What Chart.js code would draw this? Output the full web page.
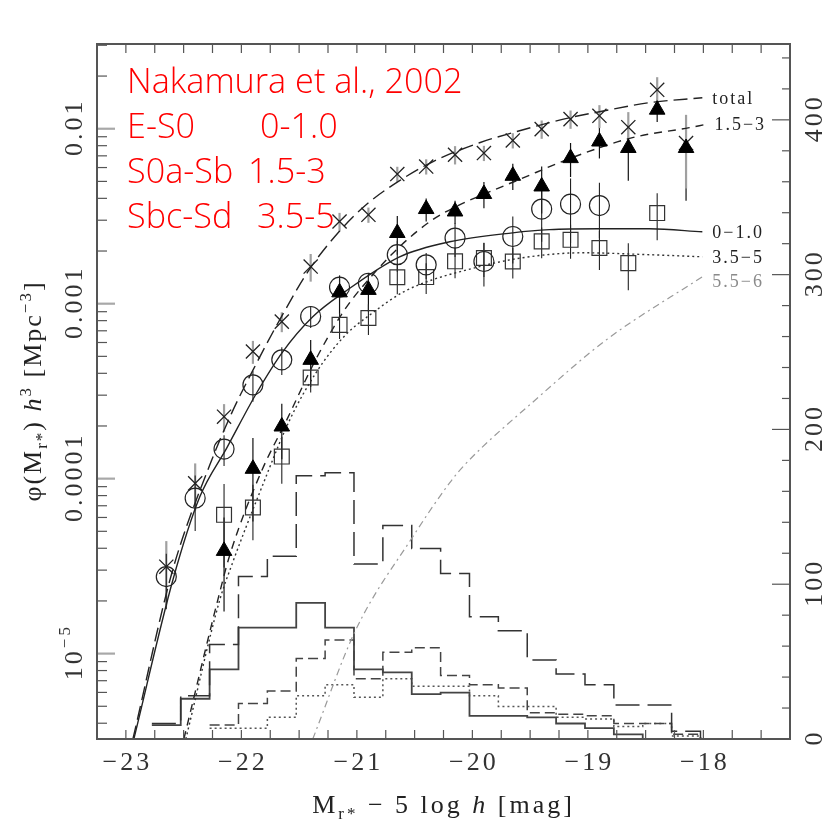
<!DOCTYPE html>
<html>
<head>
<meta charset="utf-8">
<script src="https://cdn.jsdelivr.net/npm/chart.js@4"></script>
<style>
  html, body { margin: 0; padding: 0; background: #fff; }
  #wrap { width: 828px; height: 825px; }
</style>
</head>
<body>
<div id="wrap"><canvas id="lfChart" width="828" height="825"></canvas></div>
<script>
// bin centres [mag]
const binM = [-22.65, -22.4, -22.15, -21.9, -21.65, -21.4, -21.15, -20.9, -20.65, -20.4,
              -20.15, -19.9, -19.65, -19.4, -19.15, -18.9, -18.65, -18.4, -18.15];

// phi(M) h^3 [Mpc^-3] per bin (null = no point)
const phiTotal = [3.14e-5, 9.4e-5, 2.26e-4, 5.33e-4, 7.9e-4, 1.63e-3, 2.95e-3, 3.22e-3, 5.51e-3, 6.08e-3,
                  7.10e-3, 7.26e-3, 8.57e-3, 9.95e-3, 1.135e-2, 1.186e-2, 1.02e-2, 1.67e-2, 8.28e-3];
const phiE = [2.754e-5, 7.73e-5, 1.476e-4, 3.436e-4, 4.775e-4, 8.45e-4, 1.242e-3, 1.309e-3, 1.905e-3, 1.667e-3,
              2.371e-3, 1.742e-3, 2.421e-3, 3.475e-3, 3.707e-3, 3.639e-3, null, null, null];
const phiS = [null, null, 3.864e-5, 1.138e-4, 1.986e-4, 4.775e-4, 1.161e-3, 1.199e-3, 2.535e-3, 3.475e-3,
              3.365e-3, 4.236e-3, 5.383e-3, 4.677e-3, 6.792e-3, 8.453e-3, 7.762e-3, 1.285e-2, 7.762e-3];
const phiSd = [null, null, 6.21e-5, 6.84e-5, 1.337e-4, 3.784e-4, 7.568e-4, 8.28e-4, 1.416e-3, 1.419e-3,
               1.746e-3, 1.824e-3, 1.742e-3, 2.270e-3, 2.317e-3, 2.080e-3, 1.706e-3, 3.296e-3, null];

// relative errors of the points
const errTotal = [0.4, 0.3, 0.18, 0.15, 0.13, 0.18, 0.12, 0.1, 0.1, 0.1, 0.12, 0.1, 0.1, 0.12, 0.12, 0.15, 0.22, 0.18, 0.45];
const errE = [0.35, 0.35, 0.2, 0.2, 0.18, 0.14, 0.14, 0.14, 0.2, 0.17, 0.22, 0.28, 0.3, 0.35, 0.4, 0.35, null, null, null];
const errS = [null, null, 0.55, 0.5, 0.35, 0.3, 0.25, 0.25, 0.25, 0.15, 0.15, 0.17, 0.17, 0.3, 0.22, 0.2, 0.35, 0.15, 0.5];
const errSd = [null, null, 0.5, 0.35, 0.3, 0.18, 0.17, 0.2, 0.2, 0.2, 0.2, 0.22, 0.2, 0.2, 0.22, 0.25, 0.3, 0.3, null];

// fitted curves
const fitTotalM = [-22.939, -22.602, -22.273, -22.083, -21.867, -21.668, -21.408, -21.149, -20.915, -20.630, -20.344, -19.938, -19.652, -19.159, -18.900, -18.467, -18.009];
const fitTotal = [3.25e-6, 2.89e-5, 1.199e-4, 2.377e-4, 4.592e-4, 8.09e-4, 1.58e-3, 2.60e-3, 3.70e-3, 5.05e-3, 6.471e-3, 8.318e-3, 9.484e-3, 1.156e-2, 1.250e-2, 1.409e-2, 1.503e-2];
const fitEM = [-22.931, -22.593, -22.360, -22.126, -21.867, -21.642, -21.382, -21.105, -20.630, -20.197, -19.652, -19.332, -18.900, -18.467, -18.009];
const fitE = [3.25e-6, 2.636e-5, 7.87e-5, 1.500e-4, 3.097e-4, 5.309e-4, 8.414e-4, 1.169e-3, 1.854e-3, 2.259e-3, 2.541e-3, 2.649e-3, 2.679e-3, 2.679e-3, 2.576e-3];
const fitSM = [-22.498, -22.204, -22.100, -21.832, -21.607, -21.348, -21.106, -20.863, -20.612, -20.344, -20.111, -19.912, -19.618, -19.116, -18.614, -18.121, -17.991];
const fitS = [3.25e-6, 2.028e-5, 3.664e-5, 1.079e-4, 2.168e-4, 4.909e-4, 9.226e-4, 1.462e-3, 2.173e-3, 3.020e-3, 3.673e-3, 4.198e-3, 5.047e-3, 6.918e-3, 8.89e-3, 1.014e-2, 1.054e-2];
const fitSdM = [-22.481, -22.187, -22.083, -21.832, -21.581, -21.348, -21.106, -20.863, -20.595, -20.344, -20.111, -19.618, -19.047, -18.467, -18.009];
const fitSd = [3.25e-6, 2.028e-5, 3.214e-5, 8.63e-5, 2.168e-4, 4.083e-4, 6.546e-4, 8.872e-4, 1.169e-3, 1.371e-3, 1.521e-3, 1.807e-3, 1.954e-3, 1.905e-3, 1.854e-3];
const fitIrrM = [-21.382, -21.010, -20.517, -20.197, -20.067, -19.453, -18.839, -18.009];
const fitIrr = [3.25e-6, 1.365e-5, 4.645e-5, 9.46e-5, 1.199e-4, 2.825e-4, 6.223e-4, 1.426e-3];

// histograms (number of galaxies, right axis)
const histEdges = [-22.775, -22.525, -22.275, -22.025, -21.775, -21.525, -21.275, -21.025, -20.775, -20.525,
                   -20.275, -20.025, -19.775, -19.525, -19.275, -19.025, -18.775, -18.525, -18.275, -18.025];
const nTotal = [10, 28, 61, 105, 118, 170, 172, 113, 138, 123, 107, 79, 70, 51, 42, 35, 22, 22, 5];
const nE = [9, 26, 45, 72, 72, 88, 72, 45, 43, 29, 30, 15, 15, 14, 10, 7, 3, null, null];
const nS = [null, null, 9, 23, 31, 52, 64, 39, 56, 59, 41, 35, 33, 17, 16, 15, 10, 10, 3];
const nSd = [null, null, 7, 7, 14, 28, 35, 27, 39, 34, 34, 28, 21, 21, 14, 13, 8, 10, 2];

// axis labels
const xTickLabels = [-23, -22, -21, -20, -19, -18];
const yDecades = [1e-2, 1e-3, 1e-4, 1e-5];
const yDecadeLabels = ['0.01', '0.001', '0.0001', '10'];
const yDecadeSup = ['', '', '', '\u22125'];
const countTicks = [0, 100, 200, 300, 400];
const fitLabels = ['total', '1.5\u22123', '0\u22121.0', '3.5\u22125', '5.5\u22126'];

function points(vals, errs) {
    return binM.map((m, i) => vals[i] == null ? null : { x: m, y: vals[i], e: errs[i] }).filter(p => p);
}
function curve(ms, vals) {
    return ms.map((m, i) => ({ x: m, y: vals[i] }));
}
function hist(counts) {
    const pts = [];
    let last = -1;
    counts.forEach((c, i) => { if (c !== null) { pts.push({ x: histEdges[i], y: c }); last = i; } });
    pts.push({ x: histEdges[last + 1], y: 0 });
    return pts;
}

const FONT = '"Liberation Serif", "Times New Roman", serif';

// draw a row of text pieces (sub/superscripts) centred on cx
function drawRuns(ctx, parts, cx, cy) {
    const fnt = p => (p.it ? 'italic ' : '') + (p.s || 26) + 'px ' + FONT;
    let w = 0;
    parts.forEach(p => { ctx.font = fnt(p); w += ctx.measureText(p.t).width; });
    let x = cx - w / 2;
    parts.forEach(p => {
        ctx.font = fnt(p);
        ctx.fillText(p.t, x, cy + (p.dy || 0));
        x += ctx.measureText(p.t).width;
    });
}

const decor = {
    id: 'decor',
    beforeDatasetsDraw(chart) {
        // error bars
        const { ctx, chartArea: a, scales: { x, y } } = chart;
        ctx.save();
        ctx.beginPath();
        ctx.rect(a.left, a.top, a.width, a.height);
        ctx.clip();
        chart.data.datasets.forEach(ds => {
            if (!ds.errColor) return;
            ctx.strokeStyle = ds.errColor;
            ctx.lineWidth = ds.errWidth;
            ds.data.forEach(p => {
                if (p.e == null) return;
                const px = x.getPixelForValue(p.x);
                const lo = Math.max(p.y * (1 - p.e), y.min);
                ctx.beginPath();
                ctx.moveTo(px, y.getPixelForValue(p.y * (1 + p.e)));
                ctx.lineTo(px, y.getPixelForValue(lo));
                ctx.stroke();
            });
        });
        ctx.restore();
    },
    afterDraw(chart) {
        const { ctx, chartArea: a, scales: { x, y, y2 } } = chart;
        ctx.save();

        // ticks (inward)
        ctx.strokeStyle = '#555';
        ctx.lineWidth = 1.2;
        for (let m = -23; m <= -17.5 + 1e-9; m += 0.25) {
            const px = x.getPixelForValue(m);
            ctx.beginPath();
            ctx.moveTo(px, a.bottom); ctx.lineTo(px, a.bottom - 9);
            ctx.moveTo(px, a.top); ctx.lineTo(px, a.top + 9);
            ctx.stroke();
        }
        for (let d = -6; d <= -1; d++) {
            for (let k = 1; k <= 9; k++) {
                const v = k * Math.pow(10, d);
                if (v < y.min || v > y.max) continue;
                const py = y.getPixelForValue(v);
                ctx.strokeStyle = k === 1 ? '#a8a8a8' : '#555';
                ctx.lineWidth = k === 1 ? 2.2 : 1.2;
                ctx.beginPath();
                ctx.moveTo(a.left, py); ctx.lineTo(a.left + (k === 1 ? 18 : 10), py);
                ctx.stroke();
            }
        }
        ctx.strokeStyle = '#555';
        ctx.lineWidth = 1.2;
        for (let c = 20; c <= 440; c += 20) {
            const py = y2.getPixelForValue(c);
            ctx.beginPath();
            ctx.moveTo(a.right, py); ctx.lineTo(a.right - (c % 100 === 0 ? 18 : 8), py);
            ctx.stroke();
        }

        // frame
        ctx.strokeStyle = '#555';
        ctx.lineWidth = 2;
        ctx.strokeRect(a.left, a.top, a.right - a.left, a.bottom - a.top);

        // tick labels
        ctx.fillStyle = '#333';
        ctx.letterSpacing = '3px';
        ctx.textAlign = 'left';
        ctx.textBaseline = 'middle';
        xTickLabels.forEach(v => {
            drawRuns(ctx, [{ t: '\u2212' + Math.abs(v) }], x.getPixelForValue(v) + 1.5, 763);
        });
        yDecades.forEach((v, i) => {
            ctx.save();
            ctx.translate(75, y.getPixelForValue(v));
            ctx.rotate(-Math.PI / 2);
            const parts = [{ t: yDecadeLabels[i] }];
            if (yDecadeSup[i]) parts.push({ t: yDecadeSup[i], s: 17, dy: -9 });
            drawRuns(ctx, parts, 1.5, 0);
            ctx.restore();
        });
        countTicks.forEach(c => {
            ctx.save();
            ctx.translate(815, y2.getPixelForValue(c));
            ctx.rotate(-Math.PI / 2);
            drawRuns(ctx, [{ t: String(c) }], 1.5, 0);
            ctx.restore();
        });

        // axis titles
        ctx.textBaseline = 'alphabetic';
        ctx.fillStyle = '#222';
        ctx.letterSpacing = '3px';
        drawRuns(ctx, [
            { t: 'M' }, { t: 'r*', s: 17, dy: 6 }, { t: ' \u2212 5 log ' },
            { t: 'h', it: true }, { t: ' [mag]' }
        ], (a.left + a.right) / 2, 813);
        ctx.save();
        ctx.translate(32, 391);
        ctx.rotate(-Math.PI / 2);
        ctx.letterSpacing = '2px';
        drawRuns(ctx, [
            { t: '\u03c6(M' }, { t: 'r*', s: 17, dy: 6 }, { t: ') ' },
            { t: 'h', it: true }, { t: '3', s: 17, dy: -10 }, { t: ' [Mpc' },
            { t: '\u22123', s: 17, dy: -10 }, { t: ']' }
        ], 0, 9);
        ctx.restore();

        // curve labels at the right end of each fit
        const ends = [fitTotal, fitS, fitE, fitSd, fitIrr];
        const endsM = [fitTotalM, fitSM, fitEM, fitSdM, fitIrrM];
        ctx.letterSpacing = '2px';
        ctx.font = '18px ' + FONT;
        ctx.textAlign = 'left';
        ctx.textBaseline = 'middle';
        fitLabels.forEach((lab, i) => {
            const ms = endsM[i], vs = ends[i];
            const px = x.getPixelForValue(ms[ms.length - 1]) + 10;
            const py = y.getPixelForValue(vs[vs.length - 1]) + (i === 4 ? 6 : 1);
            ctx.fillStyle = i === 4 ? '#8a8a8a' : '#222';
            ctx.fillText(lab, px, py);
        });

        // red annotation
        ctx.letterSpacing = '0px';
        ctx.fillStyle = '#ff0000';
        ctx.textBaseline = 'alphabetic';
        ctx.font = '300 34px "Open Sans", "Noto Sans", sans-serif';
        const size = 34 * 336 / ctx.measureText('Nakamura et al., 2002').width;
        ctx.font = '300 ' + size.toFixed(1) + 'px "Open Sans", "Noto Sans", sans-serif';
        ctx.fillText('Nakamura et al., 2002', 127, 93);
        ctx.fillText('E-S0', 127, 138);
        ctx.fillText('0-1.0', 260, 138);
        ctx.fillText('S0a-Sb', 127, 183);
        ctx.fillText('1.5-3', 248, 183);
        ctx.fillText('Sbc-Sd', 127, 228);
        ctx.fillText('3.5-5', 257, 228);
        ctx.restore();
    }
};

const ctx = document.getElementById('lfChart');
new Chart(ctx, {
    type: 'line',
    data: {
        datasets: [
            // data points (first = drawn on top)
            { data: points(phiS, errS), showLine: false, pointStyle: 'triangle', pointRadius: 9,
              backgroundColor: '#000', borderColor: '#000', borderWidth: 1, errColor: '#111', errWidth: 1.2 },
            { data: points(phiTotal, errTotal), showLine: false, pointStyle: 'crossRot', pointRadius: 10,
              borderColor: '#222', borderWidth: 1.3, errColor: '#a0a0a0', errWidth: 2.2 },
            { data: points(phiE, errE), showLine: false, pointStyle: 'circle', pointRadius: 10,
              backgroundColor: 'rgba(0,0,0,0)', borderColor: '#222', borderWidth: 1.2, errColor: '#222', errWidth: 1.1 },
            { data: points(phiSd, errSd), showLine: false, pointStyle: 'rect', pointRadius: 10.5,
              backgroundColor: 'rgba(0,0,0,0)', borderColor: '#333', borderWidth: 1.2, errColor: '#222', errWidth: 1.1 },
            // fits
            { data: curve(fitTotalM, fitTotal), borderColor: '#222', borderWidth: 1.4, borderDash: [14, 6],
              pointRadius: 0, cubicInterpolationMode: 'monotone' },
            { data: curve(fitSM, fitS), borderColor: '#222', borderWidth: 1.4, borderDash: [8, 6],
              pointRadius: 0, cubicInterpolationMode: 'monotone' },
            { data: curve(fitEM, fitE), borderColor: '#222', borderWidth: 1.4,
              pointRadius: 0, cubicInterpolationMode: 'monotone' },
            { data: curve(fitSdM, fitSd), borderColor: '#333', borderWidth: 1.4, borderDash: [2, 3],
              pointRadius: 0, cubicInterpolationMode: 'monotone' },
            { data: curve(fitIrrM, fitIrr), borderColor: '#9a9a9a', borderWidth: 1.2, borderDash: [7, 4, 2, 4],
              pointRadius: 0, cubicInterpolationMode: 'monotone' },
            // histograms
            { data: hist(nTotal), yAxisID: 'y2', stepped: true, borderColor: '#333', borderWidth: 1.5,
              borderDash: [24, 8], pointRadius: 0 },
            { data: hist(nE), yAxisID: 'y2', stepped: true, borderColor: '#444', borderWidth: 1.8, pointRadius: 0 },
            { data: hist(nS), yAxisID: 'y2', stepped: true, borderColor: '#444', borderWidth: 1.5,
              borderDash: [10, 5], pointRadius: 0 },
            { data: hist(nSd), yAxisID: 'y2', stepped: true, borderColor: '#555', borderWidth: 1.5,
              borderDash: [2, 3], pointRadius: 0 }
        ]
    },
    options: {
        responsive: false,
        animation: false,
        layout: { padding: { left: 97, top: 44, right: 38, bottom: 86 } },
        plugins: { legend: { display: false }, tooltip: { enabled: false } },
        scales: {
            x: { type: 'linear', min: -23.25, max: -17.25, display: false },
            y: { type: 'logarithmic', min: 3.25e-6, max: 0.0305, display: false },
            y2: { type: 'linear', min: 0, max: 449, display: false, position: 'right' }
        }
    },
    plugins: [decor]
});
</script>
</body>
</html>
